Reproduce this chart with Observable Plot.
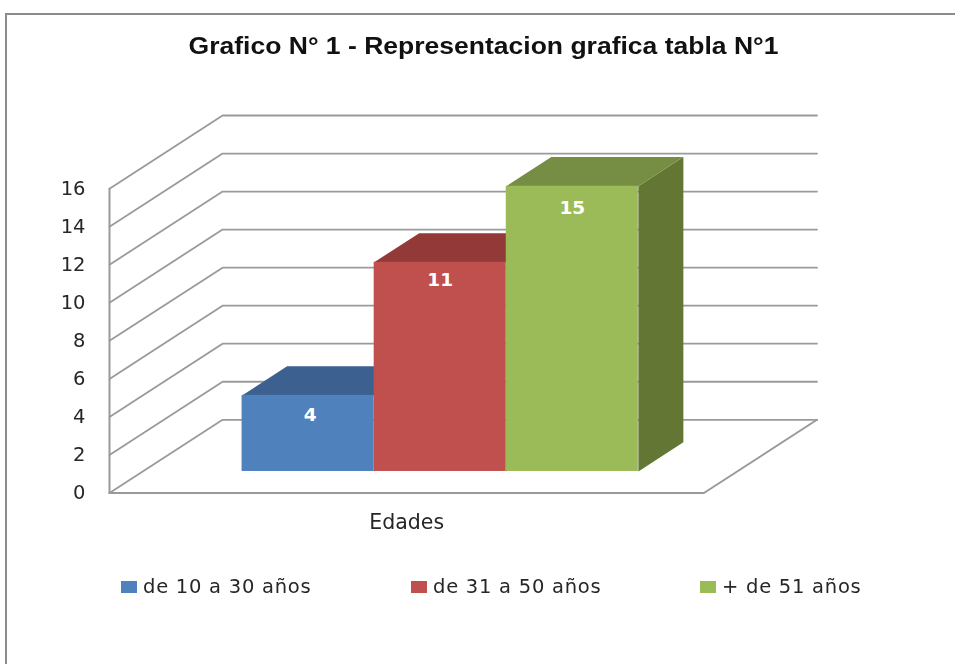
<!DOCTYPE html>
<html lang="es">
<head>
<meta charset="utf-8">
<script src="https://cdn.jsdelivr.net/npm/d3@7"></script>
<script src="https://cdn.jsdelivr.net/npm/@observablehq/plot@0.6"></script>
<style>
html,body{margin:0;padding:0;background:#fff;width:955px;height:664px;overflow:hidden}
#frame{position:absolute;left:4.5px;top:12.5px;width:980px;height:700px;border:2px solid #8c8c8c;box-sizing:border-box}
#title{position:absolute;left:0;width:967px;top:33px;text-align:center;font:bold 23.5px "Liberation Sans",Arial,sans-serif;color:#111;white-space:nowrap;transform:scaleX(1.128);filter:blur(.35px)}
#chart{position:absolute;left:0;top:90px;filter:blur(.35px)}
#legend{filter:blur(.35px)}
.lg{position:absolute;top:575px;height:26px;line-height:26px;font:19.5px "DejaVu Sans",sans-serif;color:#262626;white-space:nowrap;letter-spacing:.75px}
.lg i{position:absolute;left:-22px;top:6px;width:16px;height:12px}
</style>
</head>
<body>
<div id="frame"></div>
<div id="title"></div>
<div id="chart"></div>
<div id="legend"></div>
<script>
const chartTitle = "Grafico N° 1 - Representacion grafica tabla N°1";
const axisTitle = "Edades";
const categories = ["de 10 a 30 años", "de 31 a 50 años", "+ de 51 años"];
const values = [4, 11, 15];
const yTicks = [0, 2, 4, 6, 8, 10, 12, 14, 16];
const frontColors = ["#4f81bd", "#c0504d", "#9bbb59"];
const topColors = ["#3c6190", "#933a38", "#768e43"];
const sideColors = ["#33527a", "#7d312f", "#647634"];
const legendLeft = [143, 433, 722];
const labelDrop = [20, 18, 22];
const labelNudge = [2, 0, 0];

// Oblique projection: depth 0 = front of the floor, depth 1 = back wall.
const depthX = 0.856, depthY = 3.85;
const floorLeft = -1.01, floorRight = 3.49;
const barShift = -0.258, barNear = 0.294, barFar = 0.692;
const at = (x, v, d) => ({x: x + d * depthX, y: v + d * depthY});

const grid = yTicks.flatMap((t) => [
  {...at(floorLeft, t, 0), t},
  {...at(floorLeft, t, 1), t},
  {...at(floorRight, t, 1), t}
]);
const leftAxis = [at(floorLeft, 0, 0), at(floorLeft, 16, 0)];
const floorEdge = [at(floorLeft, 0, 0), at(floorRight, 0, 0), at(floorRight, 0, 1)];

const barMarks = categories.flatMap((c, i) => {
  const x0 = i + barShift, x1 = x0 + 1, v = values[i];
  const side = [at(x1, 0, barNear), at(x1, 0, barFar), at(x1, v, barFar), at(x1, v, barNear)];
  const top = [at(x0, v, barNear), at(x0, v, barFar), at(x1, v, barFar), at(x1, v, barNear)];
  const a = at(x0, 0, barNear), b = at(x1, v, barNear);
  return [
    Plot.line(side, {x: "x", y: "y", fill: sideColors[i], stroke: "none"}),
    Plot.line(top, {x: "x", y: "y", fill: topColors[i], stroke: "none"}),
    Plot.rect([{x1: a.x, x2: b.x, y1: a.y, y2: b.y}], {x1: "x1", x2: "x2", y1: "y1", y2: "y2", fill: frontColors[i]}),
    Plot.text([{x: (a.x + b.x) / 2, y: b.y, v}], {x: "x", y: "y", text: "v", fill: "#fff", dx: labelNudge[i], dy: labelDrop[i], fontSize: 18.5, fontWeight: "bold", fontFamily: "DejaVu Sans"})
  ];
});

const plot = Plot.plot({
  width: 955, height: 450,
  marginLeft: 109, marginRight: 138.5, marginTop: 25, marginBottom: 47.5,
  x: {domain: [floorLeft, floorRight + depthX], axis: null},
  y: {domain: [0, 16 + depthY], axis: null},
  style: {background: "transparent", overflow: "visible"},
  marks: [
    Plot.line(grid, {x: "x", y: "y", z: "t", stroke: "#9a9a9a", strokeWidth: 1.8, curve: "linear"}),
    Plot.line(leftAxis, {x: "x", y: "y", stroke: "#9a9a9a", strokeWidth: 2}),
    Plot.line(floorEdge, {x: "x", y: "y", stroke: "#9a9a9a", strokeWidth: 2}),
    ...barMarks,
    Plot.axisY({ticks: yTicks, tickSize: 0, tickPadding: 24, label: null, fontSize: 19.5, fontFamily: "DejaVu Sans", color: "#262626"}),
    Plot.axisX({ticks: [(floorLeft + floorRight) / 2], tickFormat: () => axisTitle, tickSize: 0, tickPadding: 21, label: null, fontSize: 20.5, fontFamily: "DejaVu Sans", color: "#262626"})
  ]
});
document.getElementById("chart").append(plot);
document.getElementById("title").textContent = chartTitle;

const legend = document.getElementById("legend");
categories.forEach((c, i) => {
  const d = document.createElement("div");
  d.className = "lg";
  d.style.left = legendLeft[i] + "px";
  d.textContent = c;
  const sw = document.createElement("i");
  sw.style.background = frontColors[i];
  d.append(sw);
  legend.append(d);
});
</script>
</body>
</html>
